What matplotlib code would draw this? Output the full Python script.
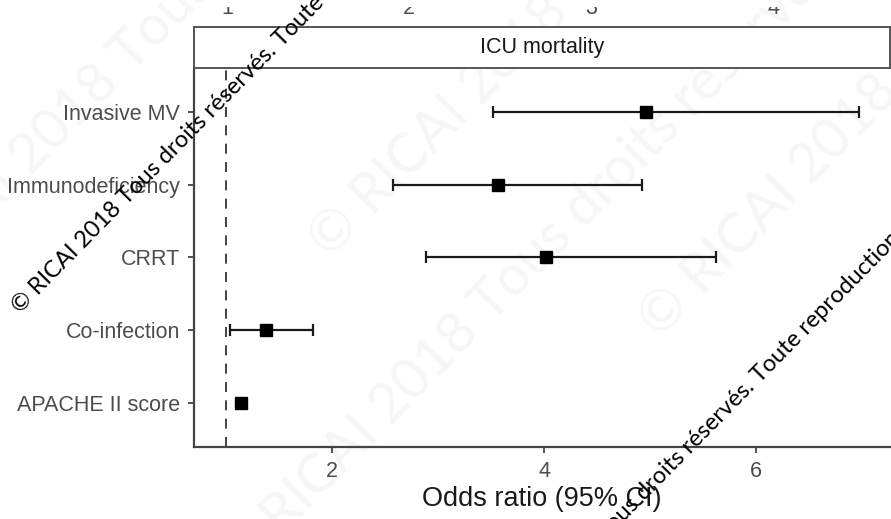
import matplotlib
matplotlib.use('Agg')
import matplotlib.pyplot as plt
import numpy as np

categories = ["Invasive MV", "Immunodeficiency", "CRRT", "Co-infection", "APACHE II score"]
odds_ratio = [4.96, 3.57, 4.02, 1.38, 1.14]
ci_low = [3.52, 2.58, 2.89, 1.04, 1.11]
ci_high = [6.97, 4.92, 5.62, 1.82, 1.17]
x_ticks = [2, 4, 6]
top_ticks = [1, 2, 3, 4]
panel_title = "ICU mortality"
x_label = "Odds ratio (95% CI)"
watermark = "© RICAI 2018 Tous droits réservés. Toute reproduction même partielle interdite"

plt.rcParams['font.family'] = ['Liberation Sans', 'DejaVu Sans']

W, H = 891, 519
fig = plt.figure(figsize=(W / 100, H / 100), dpi=100)
fig.patch.set_facecolor('white')


def box(x0, y0, x1, y1):
    return [x0 / W, 1 - y1 / H, (x1 - x0) / W, (y1 - y0) / H]


# faint background watermark
for (px, py) in [(-120, 330), (240, 580), (330, 260), (660, 340)]:
    fig.text(px / W, 1 - py / H, watermark, rotation=45.5, rotation_mode='anchor',
             ha='left', va='baseline', fontsize=40, color='#f6f6f6',
             family=['Lato', 'DejaVu Sans'], zorder=-5)

ax = fig.add_axes(box(194, 68, 890, 447))
ax.set_facecolor('none')
n = len(categories)
ypos = np.arange(n, 0, -1)
lo = np.array(odds_ratio) - np.array(ci_low)
hi = np.array(ci_high) - np.array(odds_ratio)
ax.axvline(1, color='#222222', lw=1.2, ls=(0, (6, 5)), zorder=1)
ax.errorbar(odds_ratio, ypos, xerr=[lo, hi], fmt='none', ecolor='#1a1a1a',
            elinewidth=1.6, capsize=4, capthick=1.6, zorder=2)
ax.plot(odds_ratio, ypos, 's', color='black', markersize=8, zorder=3)
ax.set_xlim(0.698, 7.264)
ax.set_ylim(0.4, 5.6)
ax.set_xticks(x_ticks)
ax.set_xticklabels([str(t) for t in x_ticks])
ax.set_yticks(ypos)
ax.set_yticklabels(categories)
for s in ['top', 'right']:
    ax.spines[s].set_visible(False)
for s in ['left', 'bottom']:
    ax.spines[s].set_color('#444444')
    ax.spines[s].set_linewidth(1.6)
ax.tick_params(axis='both', length=4, width=1.3, color='#444444',
               labelsize=15.5, labelcolor='#4d4d4d', pad=6)
ax.set_xlabel(x_label, fontsize=19.5, color='#1a1a1a', labelpad=3)

# facet strip
sax = fig.add_axes(box(194, 27, 890, 68))
sax.set_xticks([])
sax.set_yticks([])
sax.set_facecolor('white')
for s in sax.spines.values():
    s.set_color('#555555')
    s.set_linewidth(1.4)
sax.text(0.5, 0.5, panel_title, transform=sax.transAxes, ha='center', va='center',
         fontsize=15.5, color='#1a1a1a')

# partially visible tick labels of the panel above
tax = fig.add_axes(box(194, 7, 890, 16))
tax.set_xlim(1 - 33 / 182, 1 + 663 / 182)
tax.set_ylim(0, 1)
tax.axis('off')
for t in top_ticks:
    tax.text(t, 2 / 9, str(t), ha='center', va='baseline', fontsize=15.5,
             color='#4d4d4d', clip_on=True)

# black watermark lines
for (px, py) in [(20, 314), (498, 650)]:
    fig.text(px / W, 1 - py / H, watermark, rotation=45.5, rotation_mode='anchor',
             ha='left', va='baseline', fontsize=17, color='black',
             family=['Lato', 'DejaVu Sans'], zorder=10)

fig.savefig('out.png', dpi=100)
